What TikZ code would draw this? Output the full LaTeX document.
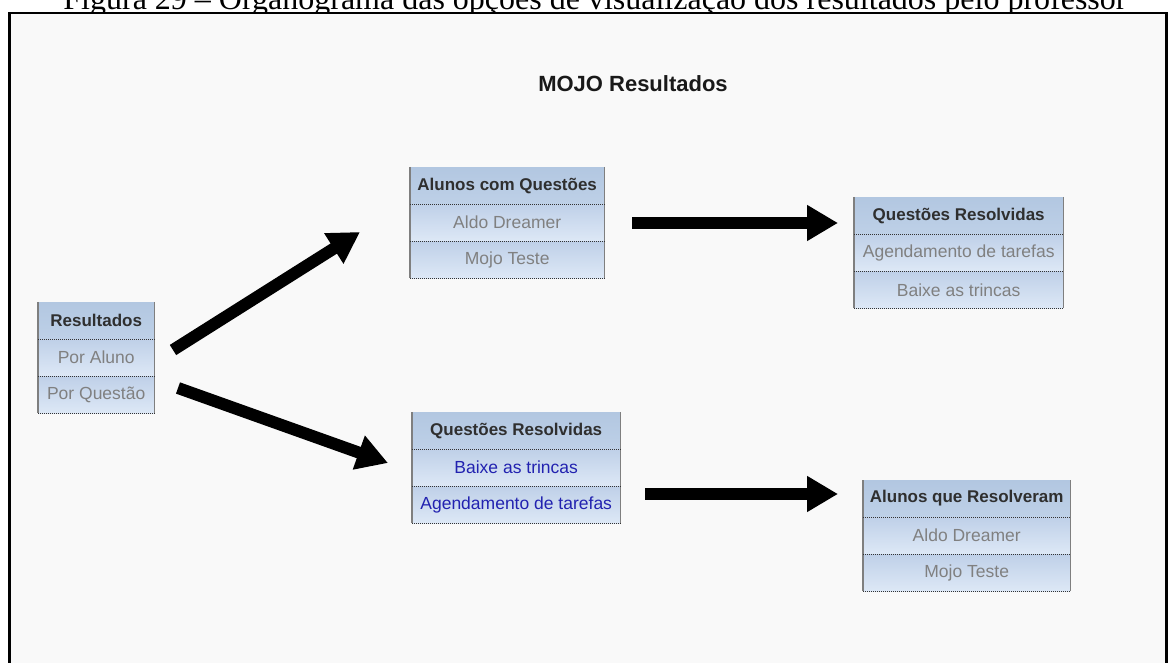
\documentclass[tikz,border=0pt]{standalone}
\usepackage{fontspec}
\setmainfont{Liberation Sans}
\newfontfamily\capfont{Liberation Serif}
\usetikzlibrary{arrows.meta,positioning}

\definecolor{pagebg}{HTML}{F9F9F9}
\definecolor{hdrtop}{HTML}{B2C7E1}
\definecolor{hdrbot}{HTML}{BED0E7}
\definecolor{rowtop}{HTML}{BFD0E8}
\definecolor{rowbot}{HTML}{DDE8F6}
\definecolor{sidegray}{HTML}{7F7F7F}
\definecolor{itemgray}{HTML}{808080}
\definecolor{itemblue}{HTML}{2222B0}
\definecolor{hdrtext}{HTML}{2F2F2F}

% shadings are laid out on the page, so "top" is the visual top
\tikzset{
  hdr/.style={minimum height=36.7pt, inner sep=0pt, top color=hdrtop, bottom color=hdrbot,
    font=\fontsize{17}{20}\selectfont\bfseries, text=hdrtext},
  rowcell/.style={minimum height=36.7pt, inner sep=0pt, top color=rowtop, bottom color=rowbot,
    font=\fontsize{17.5}{20}\selectfont},
  side/.style={draw=sidegray, line width=1.5pt},
  sep/.style={draw=black!80, line width=1pt, dash pattern=on 1pt off 1pt},
  bigarrow/.style={line width=12pt, -{Triangle[length=31pt,width=34pt]}},
}

% one table: name, x, y, width, title, first item, second item, item colour
\newcommand\mojobox[8]{%
  \node[hdr, minimum width=#4pt, anchor=north west] (#1-h) at (#2,#3) {#5};
  \node[rowcell, minimum width=#4pt, text=#8, below=0pt of #1-h] (#1-a) {#6};
  \node[rowcell, minimum width=#4pt, text=#8, below=0pt of #1-a] (#1-b) {#7};
  \draw[side] (#1-h.north west) -- (#1-b.south west);
  \draw[side] (#1-h.north east) -- (#1-b.south east);
  \draw[sep] (#1-h.south west) -- (#1-h.south east);
  \draw[sep] (#1-a.south west) -- (#1-a.south east);
  \draw[sep] (#1-b.south west) -- (#1-b.south east);
}

\begin{document}
\begin{tikzpicture}[x=1pt, y=-1pt]
  \useasboundingbox (0,0) rectangle (1171,663);
  \clip (0,0) rectangle (1171,663);

  % caption above the screen
  \node[font=\capfont\fontsize{32}{36}\selectfont, anchor=base] (caption) at (595,10)
    {Figura 29 – Organograma das opções de visualização dos resultados pelo professor};

  % screen frame
  \draw[line width=2.2pt, fill=pagebg] (9.5,13) rectangle (1166.5,700);

  \node[font=\fontsize{22}{26}\selectfont\bfseries, text=black!90] (title) at (633,84) {MOJO Resultados};

  \mojobox{res}{38}{302}{116}{Resultados}{Por Aluno}{Por Questão}{itemgray}
  \mojobox{alq}{410}{167}{194}{Alunos com Questões}{Aldo Dreamer}{Mojo Teste}{itemgray}
  \mojobox{qrb}{412}{412}{208}{Questões Resolvidas}{Baixe as trincas}{Agendamento de tarefas}{itemblue}
  \mojobox{qra}{854}{197}{209}{Questões Resolvidas}{Agendamento de tarefas}{Baixe as trincas}{itemgray}
  \mojobox{aqr}{863}{480}{207}{Alunos que Resolveram}{Aldo Dreamer}{Mojo Teste}{itemgray}

  % arrow ends
  \coordinate (a1s) at (173,350);
  \coordinate (a1e) at (360,232);
  \coordinate (a2s) at (178,388);
  \coordinate (a2e) at (388,463);
  \coordinate (a3s) at (632,223);
  \coordinate (a3e) at (838,223);
  \coordinate (a4s) at (645,494);
  \coordinate (a4e) at (838,494);

  \draw[bigarrow] (a1s) -- (a1e);
  \draw[bigarrow] (a2s) -- (a2e);
  \draw[bigarrow] (a3s) -- (a3e);
  \draw[bigarrow] (a4s) -- (a4e);
\end{tikzpicture}
\end{document}
